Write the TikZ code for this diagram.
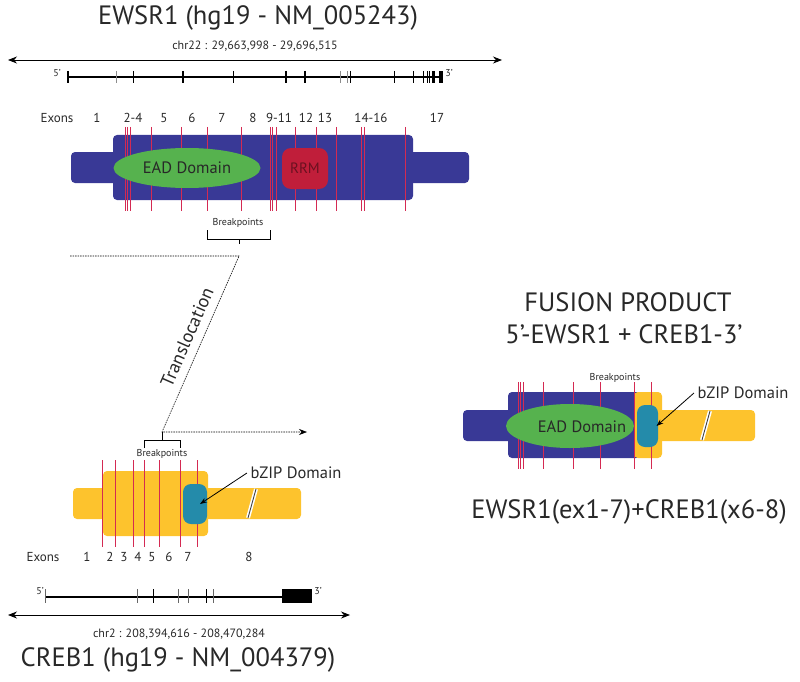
\documentclass[tikz,border=0pt]{standalone}
\usepackage{fontspec}
\setmainfont{PT Sans}
\usetikzlibrary{arrows.meta,shapes.geometric}
\definecolor{ewsblue}{RGB}{57,57,150}
\definecolor{eadgreen}{RGB}{86,178,78}
\definecolor{rrmred}{RGB}{192,30,58}
\definecolor{crebyellow}{RGB}{253,195,45}
\definecolor{bzipteal}{RGB}{36,139,170}
\definecolor{exonred}{RGB}{212,42,82}
\definecolor{inkgray}{RGB}{40,40,40}

\begin{document}
\begin{tikzpicture}[x=1pt,y=-1pt,text=inkgray,
    body/.style={rounded corners=4pt, inner sep=0pt, minimum height=31pt},
    mainbody/.style={rounded corners=4pt, inner sep=0pt, minimum height=65pt},
    exline/.style={exonred, line width=0.8pt},
    gtick/.style={line width=1pt},
    chrarrow/.style={{Stealth[length=9pt,width=7pt]}-{Stealth[length=9pt,width=7pt]}, line width=0.8pt},
    bigtxt/.style={font=\fontsize{26.5}{30}\selectfont},
    midtxt/.style={font=\fontsize{16.5}{19}\selectfont},
    exontxt/.style={font=\fontsize{13}{15}\selectfont},
    chrtxt/.style={font=\fontsize{12}{14}\selectfont},
    tinytxt/.style={font=\fontsize{10}{11}\selectfont},
    breakmark/.style={white, line width=4pt}]
\useasboundingbox (0,0) rectangle (800,682);

\node[bigtxt] (ewstitle) at (258,18) {EWSR1 (hg19 - NM\_005243)};
\node[chrtxt] (ewschr) at (255,46) {chr22 : 29,663,998 - 29,696,515};
\coordinate (ewsl) at (8,60);
\coordinate (ewsr) at (502,60);
\draw[chrarrow] (ewsl) -- (ewsr);
\coordinate (ewsg5) at (67.7,77);
\coordinate (ewsg3) at (441,77);
\draw[line width=1.2pt] (ewsg5) -- (ewsg3);
\foreach \x in {133,233,350,394,413,423,427,429}
    \draw[gtick] (\x,71) -- (\x,83);
\foreach \x in {116,340,347}
    \draw[gtick, black!45] (\x,71) -- (\x,83);
\foreach \x in {67.7,183,286,305,433.5}
    \draw[line width=2.2pt] (\x,71) -- (\x,83);
\fill (438.5,71) rectangle (442.5,83);
\node[tinytxt] (ews5) at (57,73) {5’};
\node[tinytxt] (ews3) at (449,73) {3’};

\node[exontxt] (ewsexons) at (57,118) {Exons};
\foreach \x/\t [count=\i] in {97/1,133/2-4,164/5,192/6,222/7,253/8,279/9-11,306/12,325/13,371/14-16,437/17}
    \node[exontxt] (ewsex\i) at (\x,118) {\t};

\node[body, fill=ewsblue, minimum width=49pt] (ewsleft) at (95.5,167.5) {};
\node[body, fill=ewsblue, minimum width=64pt] (ewsright) at (437,167.5) {};
\node[mainbody, fill=ewsblue, minimum width=300pt] (ewsmain) at (263,167.5) {};
\foreach \x in {125,127.7,130,151,181,207,241,270,272.7,276,295,316,336,361.7,364.3,405.7}
    \draw[exline] (\x,127) -- (\x,211);
\node[ellipse, fill=eadgreen, inner sep=0pt, minimum width=147pt, minimum height=40pt, midtxt] (ead) at (187,168) {EAD Domain};
\node[fill=rrmred, rounded corners=9pt, minimum width=46pt, minimum height=41pt, inner sep=0pt, text=rrmred!55!black, font=\fontsize{15}{17}\selectfont] (rrm) at (305,168.5) {RRM};

\node[tinytxt] (ewsbp) at (238,223) {Breakpoints};
\draw[line width=0.6pt] (207,230) |- (270,239) -- (270,230);
\coordinate (ewsbptop) at (239,239);
\coordinate (ewsbpend) at (239,244);
\draw[line width=0.6pt] (ewsbptop) -- (ewsbpend);

\coordinate (trA) at (70,256);
\coordinate (trB) at (239,256);
\coordinate (trC) at (162,432);
\coordinate (trD) at (307,432);
\draw[dash pattern=on 1.5pt off 1pt, line width=0.6pt, -{Stealth[length=8pt,width=6pt]}] (trA) -- (trB) -- (trC) -- (trD);
\node[rotate=66.4, font=\fontsize{18.5}{20}\selectfont] (transl) at (187,337) {Translocation};

\coordinate (crebbptop) at (162,440);
\draw[line width=0.6pt] (trC) -- (crebbptop);
\draw[line width=0.6pt] (144,448) |- (180,440) -- (180,448);
\node[tinytxt] (crebbp) at (162,454) {Breakpoints};

\node[body, fill=crebyellow, minimum width=37pt] (crebleft) at (91.5,503.5) {};
\node[body, fill=crebyellow, minimum width=101pt] (crebright) at (250.5,503.5) {};
\node[mainbody, fill=crebyellow, minimum width=105pt] (crebmain) at (155.5,503.5) {};
\foreach \x in {102,115,133,144,159,180,197}
    \draw[exline] (\x,460) -- (\x,547);
\node[fill=bzipteal, rounded corners=8pt, minimum width=24pt, minimum height=40pt, inner sep=0pt] (bzip) at (195,504) {};
\draw[breakmark] (248,518) -- (256,489);
\draw[line width=0.9pt, black!75] (248,518) -- (256,489);
\node[midtxt] (bziplbl) at (296,473) {bZIP Domain};
\draw[line width=0.8pt, -{Stealth[length=7pt,width=5pt]}] (bziplbl.west) -- ([xshift=5pt]bzip.center);

\node[exontxt] (crebexons) at (43,557) {Exons};
\foreach \x/\t [count=\i] in {87/1,110/2,124/3,138/4,152/5,169/6,188/7,249/8}
    \node[exontxt] (crebex\i) at (\x,557) {\t};

\coordinate (crebg5) at (45.7,597);
\coordinate (crebg3) at (282,597);
\draw[line width=1.2pt] (crebg5) -- (crebg3);
\fill (282,589) rectangle (312,603);
\foreach \x in {45.7,137,178,188,213}
    \draw[line width=0.5pt, black!60] (\x,589) -- (\x,603);
\foreach \x in {153,206}
    \draw[line width=0.9pt] (\x,589) -- (\x,603);
\node[tinytxt] (creb5) at (40,591) {5’};
\node[tinytxt] (creb3) at (318,591) {3’};
\coordinate (crebl) at (8,615);
\coordinate (crebr) at (350,615);
\draw[chrarrow] (crebl) -- (crebr);
\node[chrtxt] (crebchr) at (179,634) {chr2 : 208,394,616 - 208,470,284};
\node[bigtxt] (crebtitle) at (178,660) {CREB1 (hg19 - NM\_004379)};

\node[bigtxt] (fustitle) at (628,302) {FUSION PRODUCT};
\node[bigtxt] (fussub) at (624,334) {5’-EWSR1 + CREB1-3’};
\node[body, fill=ewsblue, minimum width=52pt] (fusleft) at (489,425.5) {};
\node[body, fill=crebyellow, minimum width=100pt] (fusright) at (705,425.5) {};
\node[mainbody, fill=ewsblue, minimum width=132pt, minimum height=66pt] (fusews) at (574,425) {};
\node[mainbody, fill=crebyellow, minimum width=28pt, minimum height=66pt] (fuscreb) at (648,425) {};
\foreach \x in {518,520,523,543,573,600,634,651}
    \draw[exline] (\x,382) -- (\x,469);
\node[ellipse, fill=eadgreen, inner sep=0pt, minimum width=128pt, minimum height=44pt] (fusead) at (570,426) {};
\node[midtxt] (fusadlbl) at (582,427) {EAD Domain};
\node[fill=bzipteal, rounded corners=8pt, minimum width=21pt, minimum height=42pt, inner sep=0pt] (fusbzip) at (647.5,426) {};
\draw[breakmark] (702,440) -- (710,411);
\draw[line width=0.9pt, black!75] (702,440) -- (710,411);
\node[tinytxt] (fusbp) at (615,378) {Breakpoints};
\node[midtxt] (fusbziplbl) at (743,393) {bZIP Domain};
\draw[line width=0.8pt, -{Stealth[length=7pt,width=5pt]}] (fusbziplbl.west) -- ([xshift=9pt]fusbzip.center);
\node[bigtxt] (fusname) at (629,512) {EWSR1(ex1-7)+CREB1(x6-8)};
\end{tikzpicture}
\end{document}
